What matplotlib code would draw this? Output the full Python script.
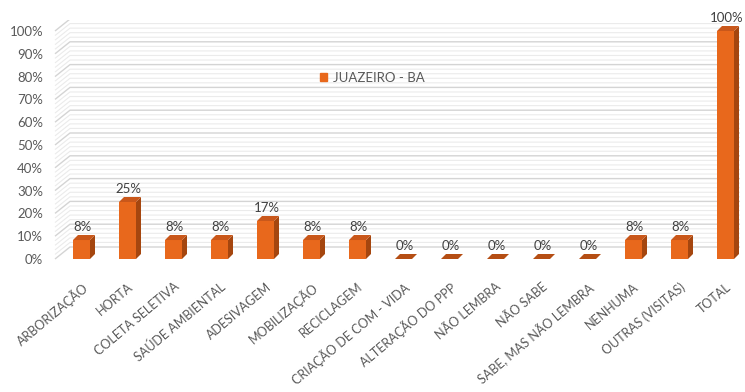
import matplotlib
matplotlib.use("Agg")
from matplotlib import pyplot as plt
from matplotlib.patches import Polygon, Patch
import numpy as np

categories = [
    "ARBORIZAÇÃO", "HORTA", "COLETA SELETIVA", "SAÚDE AMBIENTAL", "ADESIVAGEM",
    "MOBILIZAÇÃO", "RECICLAGEM", "CRIAÇÃO DE COM - VIDA", "ALTERAÇÃO DO PPP",
    "NÃO LEMBRA", "NÃO SABE", "SABE, MAS NÃO LEMBRA", "NENHUMA",
    "OUTRAS (VISITAS)", "TOTAL",
]
values = [8.33, 25.0, 8.33, 8.33, 16.67, 8.33, 8.33, 0, 0, 0, 0, 0, 8.33, 8.33, 100.0]
series_name = "JUAZEIRO - BA"
y_ticks = list(range(0, 101, 10))

plt.rcParams["font.family"] = ["Lato", "DejaVu Sans"]
text_col = "#595959"
front_col = "#E8681C"
side_col = "#A5460F"
top_col = "#C9571A"

W, H = 745, 392
fig = plt.figure(figsize=(W / 100, H / 100), dpi=100)
# axes placed so bar centres sit ~46px apart, 0% at y=259px, 100% at y=31px
ax = fig.add_axes([50 / W, (H - 275) / H, 695 / W, 255 / H])
ax.set_xlim((50 - 81.5) / 46, (745 - 81.5) / 46)
ax.set_ylim(-(275 - 259) / 2.28, (259 - 20) / 2.28)

x = np.arange(len(categories))
bw = 17 / 46
ddx, ddy = 5 / 46, 5 / 2.28     # bar depth
wdx, wdy = 15 / 46, 12 / 2.28   # wall offset

# back wall + side wall grid
x_wall_left = (55 - 81.5) / 46
x_right = (740 - 81.5) / 46
for g in np.arange(0, 101, 2):
    major = g % 10 == 0
    c = "#D4D4D4" if major else "#EBEBEB"
    lw = 1.0 if major else 0.8
    ax.plot([x_wall_left, x_wall_left + wdx, x_right], [g, g + wdy, g + wdy],
            color=c, lw=lw, zorder=1, solid_capstyle="butt")

# bars with fake 3D faces
for xi, v in zip(x, values):
    l, r = xi - bw / 2, xi + bw / 2
    if v > 0:
        ax.bar(xi, v, width=bw, color=front_col, zorder=3, linewidth=0)
        ax.add_patch(Polygon([(r, 0), (r + ddx, ddy), (r + ddx, v + ddy), (r, v)],
                             closed=True, color=side_col, lw=0, zorder=3))
    ax.add_patch(Polygon([(l, v), (l + ddx, v + ddy), (r + ddx, v + ddy), (r, v)],
                         closed=True, color=top_col if v > 0 else "#B54E14", lw=0, zorder=3))
    ax.text(xi + 0.02, v + 5.8, f"{v:.0f}%", ha="center", va="center",
            fontsize=9.5, color="#404040", zorder=4)

ax.set_xticks(x)
ax.set_xticklabels(categories, rotation=40, ha="right", rotation_mode="anchor",
                   fontsize=9, color=text_col)
ax.set_yticks(y_ticks)
ax.set_yticklabels([f"{t}%" for t in y_ticks], fontsize=9.5, color=text_col)
ax.tick_params(axis="both", length=0)
ax.tick_params(axis="x", pad=4)
ax.tick_params(axis="y", pad=5)
for s in ax.spines.values():
    s.set_visible(False)

ax.legend(handles=[Patch(color=front_col, label=series_name)],
          loc="center left", bbox_to_anchor=(320 / W, 1 - 78 / H),
          bbox_transform=fig.transFigure, frameon=False, fontsize=9.5,
          handlelength=0.55, handleheight=0.55, handletextpad=0.4,
          borderpad=0, borderaxespad=0, labelcolor=text_col)

fig.savefig("out.png", dpi=100)
plt.close()
